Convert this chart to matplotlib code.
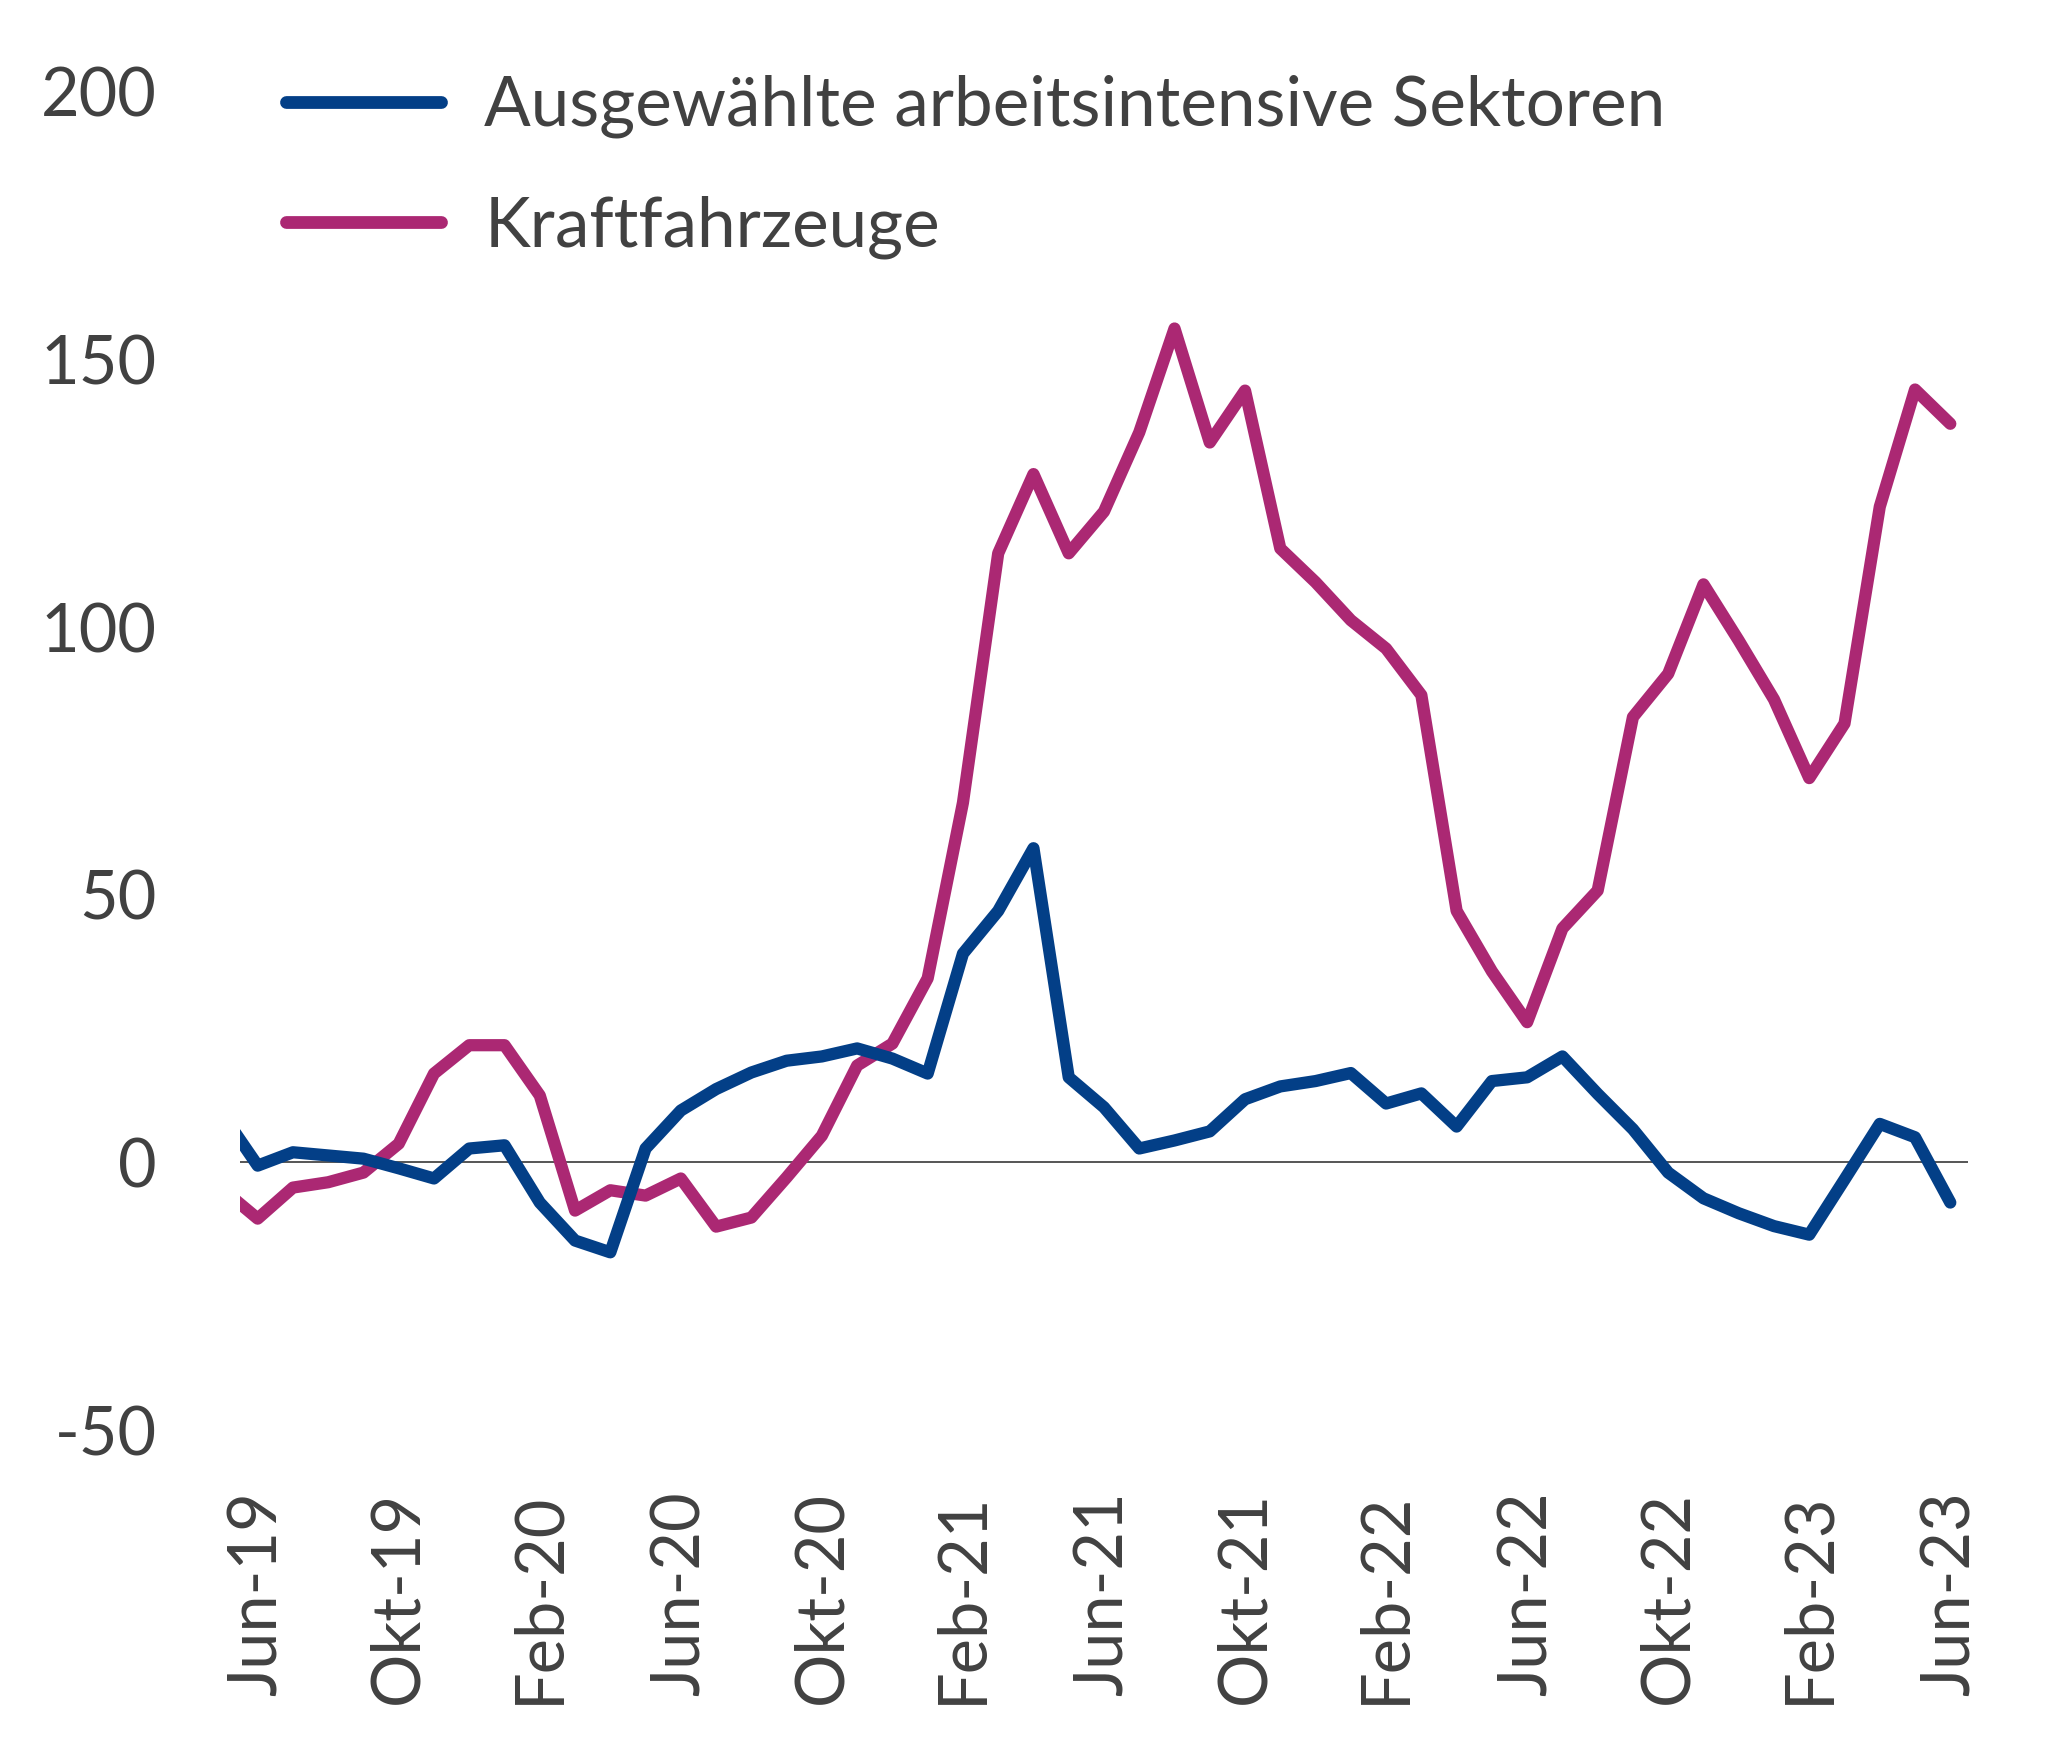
import numpy as np
import matplotlib
matplotlib.use("Agg")
import matplotlib.pyplot as plt

# monthly values, May-19 (clipped at left edge) to Jun-23
MONTHS = ["Mai-19", "Jun-19", "Jul-19", "Aug-19", "Sep-19", "Okt-19", "Nov-19", "Dez-19",
          "Jan-20", "Feb-20", "Mär-20", "Apr-20", "Mai-20", "Jun-20", "Jul-20", "Aug-20",
          "Sep-20", "Okt-20", "Nov-20", "Dez-20", "Jan-21", "Feb-21", "Mär-21", "Apr-21",
          "Mai-21", "Jun-21", "Jul-21", "Aug-21", "Sep-21", "Okt-21", "Nov-21", "Dez-21",
          "Jan-22", "Feb-22", "Mär-22", "Apr-22", "Mai-22", "Jun-22", "Jul-22", "Aug-22",
          "Sep-22", "Okt-22", "Nov-22", "Dez-22", "Jan-23", "Feb-23", "Mär-23", "Apr-23",
          "Mai-23", "Jun-23"]

SEKTOREN = [9, -0.6, 1.9, 1.3, 0.7, -1.1, -3, 2.6, 3.2, -7.5, -14.6, -16.8, 2.6, 9.7,
            13.7, 16.8, 19, 19.8, 21.3, 19.4, 16.6, 39, 47, 58.7, 15.9, 10.3, 2.6, 4.1,
            5.8, 11.8, 14.2, 15.2, 16.7, 11, 12.9, 6.7, 15.2, 15.9, 19.8, 12.8, 6.2, -1.9,
            -6.7, -9.5, -11.9, -13.5, -3.2, 7.2, 4.7, -7.5]

KFZ = [-5, -10.5, -4.7, -3.7, -1.9, 3.5, 16.6, 21.9, 21.9, 12.5, -9, -5.2, -6.2, -3,
       -12, -10.3, -2.8, 5, 18.1, 22.2, 34.4, 67.2, 113.8, 128.6, 113.8, 121.6, 136.4,
       155.8, 134.5, 144.2, 114.7, 108.4, 101.3, 96, 87.3, 47, 35.7, 26.2, 43.7, 50.8,
       83.2, 91.3, 108, 97.5, 86.5, 71.8, 82, 122.5, 144.4, 138]

LABELS = ["Ausgewählte arbeitsintensive Sektoren", "Kraftfahrzeuge"]
COLORS = ["#033f87", "#ab2873"]
TEXT = "#414141"

plt.rcParams["font.family"] = ["Lato", "DejaVu Sans"]
plt.rcParams["axes.unicode_minus"] = False

x = np.arange(len(MONTHS)) - 1  # Jun-19 -> 0

fig = plt.figure(figsize=(10.285, 8.755), dpi=200)
ax = fig.add_axes([0.1167, 0.1833, 0.84, 0.7642])

ax.axhline(0, color="#555555", lw=0.7, zorder=1)
ax.plot(x, SEKTOREN, color=COLORS[0], lw=4.4, label=LABELS[0], solid_joinstyle="round",
        solid_capstyle="round", zorder=3)
ax.plot(x, KFZ, color=COLORS[1], lw=4.4, label=LABELS[1], solid_joinstyle="round",
        solid_capstyle="round", zorder=2)

ax.set_xlim(-0.5, 48.5)
ax.set_ylim(-50, 200)
ax.set_yticks([-50, 0, 50, 100, 150, 200])

tick_idx = list(range(1, len(MONTHS), 4))
ax.set_xticks([x[i] for i in tick_idx])
ax.set_xticklabels([MONTHS[i] for i in tick_idx], rotation=90)

ax.tick_params(axis="both", length=0, labelsize=24, labelcolor=TEXT)
ax.tick_params(axis="y", pad=30)
ax.tick_params(axis="x", pad=22)
for s in ax.spines.values():
    s.set_visible(False)

leg = ax.legend(loc="upper left", bbox_to_anchor=(0.1255, 0.973), bbox_transform=fig.transFigure,
                frameon=False, fontsize=24.9, handlelength=2.25, handletextpad=0.62,
                labelspacing=0.82, borderaxespad=0)
for t in leg.get_texts():
    t.set_color(TEXT)
for h in leg.get_lines():
    h.set_linewidth(4.6)
    h.set_solid_capstyle("round")

fig.savefig("out.png", dpi=200, facecolor="white")
